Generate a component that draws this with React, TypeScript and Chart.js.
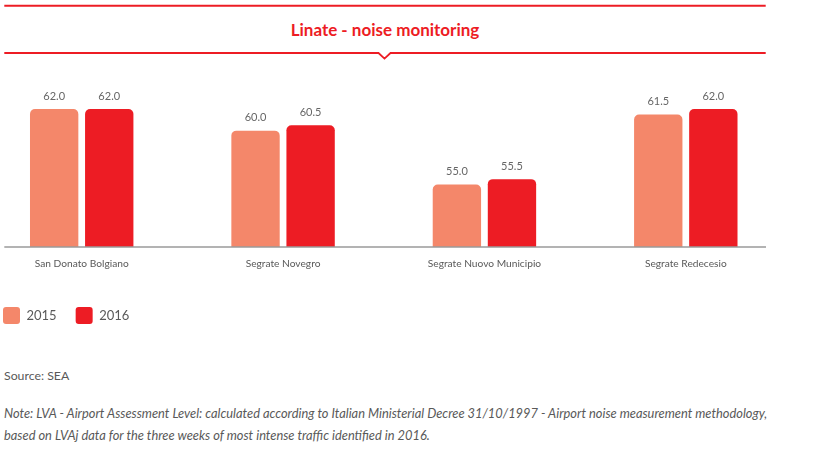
import React, { useEffect, useRef } from "react";
import { Chart, registerables } from "chart.js";

Chart.register(...registerables);

const categories = ["San Donato Bolgiano", "Segrate Novegro", "Segrate Nuovo Municipio", "Segrate Redecesio"];
const series2015 = [62.0, 60.0, 55.0, 61.5];
const series2016 = [62.0, 60.5, 55.5, 62.0];
const seriesLabels = ["2015", "2016"];
const seriesColors = ["#F4876A", "#ED1C24"];
const yMin = 49.2;
const yMax = 66;
const titleText = "Linate - noise monitoring";
const sourceText = "Source: SEA";
const noteLines = [
  "Note: LVA - Airport Assessment Level: calculated according to Italian Ministerial Decree 31/10/1997 - Airport noise measurement methodology,",
  "based on LVAj data for the three weeks of most intense traffic identified in 2016.",
];

const RED = "#ED1C24";
const GRAY_TEXT = "#595959";
const FONT = "Lato, 'Open Sans', sans-serif";

// canvas placement (page coords)
const CANVAS_LEFT = -16;
const CANVAS_TOP = 66;
const CANVAS_W = 849;
const CANVAS_H = 268;

const valueLabelPlugin = {
  id: "valueLabels",
  afterDatasetsDraw(chart: any) {
    const ctx = chart.ctx;
    ctx.save();
    ctx.font = `11px ${FONT}`;
    ctx.fillStyle = "#666666";
    ctx.textAlign = "center";
    ctx.textBaseline = "middle";
    chart.data.datasets.forEach((ds: any, di: number) => {
      const meta = chart.getDatasetMeta(di);
      meta.data.forEach((el: any, i: number) => {
        const v = ds.data[i];
        ctx.fillText(Number(v).toFixed(1), el.x, el.y - 13);
      });
    });
    ctx.restore();
  },
};

const baselinePlugin = {
  id: "baseline",
  afterDatasetsDraw(chart: any) {
    const ctx = chart.ctx;
    const y = chart.scales.y.getPixelForValue(yMin);
    ctx.save();
    ctx.strokeStyle = "#9A9A9A";
    ctx.lineWidth = 1.5;
    ctx.beginPath();
    ctx.moveTo(4.3 - CANVAS_LEFT, y);
    ctx.lineTo(766 - CANVAS_LEFT, y);
    ctx.stroke();
    ctx.restore();
  },
};

function BarChart() {
  const ref = useRef<HTMLCanvasElement | null>(null);
  useEffect(() => {
    if (!ref.current) return;
    const common = {
      borderWidth: 0,
      borderRadius: 5,
      borderSkipped: "bottom",
      base: yMin,
      clip: false,
    };
    const chart = new Chart(ref.current, {
      type: "bar",
      data: {
        labels: categories,
        datasets: [
          { label: seriesLabels[0], data: series2015, backgroundColor: seriesColors[0], ...common },
          { label: seriesLabels[1], data: series2016, backgroundColor: seriesColors[1], ...common },
        ],
      },
      options: {
        animation: false,
        responsive: false,
        maintainAspectRatio: false,
        events: [],
        categoryPercentage: 0.547,
        barPercentage: 0.878,
        layout: { padding: { left: 0, right: 147.2, top: 0, bottom: 0 } },
        scales: {
          x: {
            offset: false,
            grid: { display: false, drawTicks: false },
            border: { display: false },
            ticks: {
              color: GRAY_TEXT,
              font: { family: FONT, size: 10.2 },
              padding: 10.5,
              maxRotation: 0,
              autoSkip: false,
            },
            afterFit(scale: any) {
              scale.height = 41;
            },
          },
          y: {
            min: yMin,
            max: yMax,
            grid: { display: false, drawTicks: false },
            border: { display: false },
            ticks: { display: false },
            afterFit(scale: any) {
              scale.width = 81.7 - CANVAS_LEFT;
            },
          },
        },
        plugins: {
          title: { display: false },
          tooltip: { enabled: false },
          legend: {
            display: true,
            position: "bottom",
            align: "start",
            labels: {
              boxWidth: 17,
              boxHeight: 17,
              padding: 19,
              color: GRAY_TEXT,
              font: { family: FONT, size: 13 },
              useBorderRadius: true,
              borderRadius: 3,
            },
          },
        },
      } as any,
      plugins: [valueLabelPlugin, baselinePlugin],
    });
    return () => chart.destroy();
  }, []);
  return (
    <canvas
      ref={ref}
      width={CANVAS_W}
      height={CANVAS_H}
      style={{ position: "absolute", left: CANVAS_LEFT, top: CANVAS_TOP, width: CANVAS_W, height: CANVAS_H }}
    />
  );
}

export default function App() {
  return (
    <div
      style={{
        position: "absolute",
        left: 0,
        top: 0,
        width: 833,
        height: 456,
        overflow: "hidden",
        background: "#ffffff",
        fontFamily: FONT,
      }}
    >
      <svg width={833} height={65} style={{ position: "absolute", left: 0, top: 0 }}>
        <line x1={4.3} y1={5.7} x2={765.7} y2={5.7} stroke={RED} strokeWidth={2} />
        <path
          d="M4.3 53 H378.5 L384.5 58.6 L390.5 53 H765.7"
          stroke={RED}
          strokeWidth={1.8}
          fill="none"
        />
      </svg>
      <div
        style={{
          position: "absolute",
          left: 0,
          top: 19,
          width: 770,
          textAlign: "center",
          color: RED,
          fontWeight: 700,
          fontSize: 17,
          lineHeight: "22px",
        }}
      >
        {titleText}
      </div>
      <BarChart />
      <div
        style={{
          position: "absolute",
          left: 4,
          top: 367,
          color: GRAY_TEXT,
          fontSize: 12.3,
          lineHeight: "18px",
          whiteSpace: "nowrap",
        }}
      >
        {sourceText}
      </div>
      <div
        style={{
          position: "absolute",
          left: 4,
          top: 402,
          color: GRAY_TEXT,
          fontSize: 12.85,
          fontStyle: "italic",
          lineHeight: "22px",
          whiteSpace: "nowrap",
        }}
      >
        {noteLines.map((l, i) => (
          <div key={i}>{l}</div>
        ))}
      </div>
    </div>
  );
}
